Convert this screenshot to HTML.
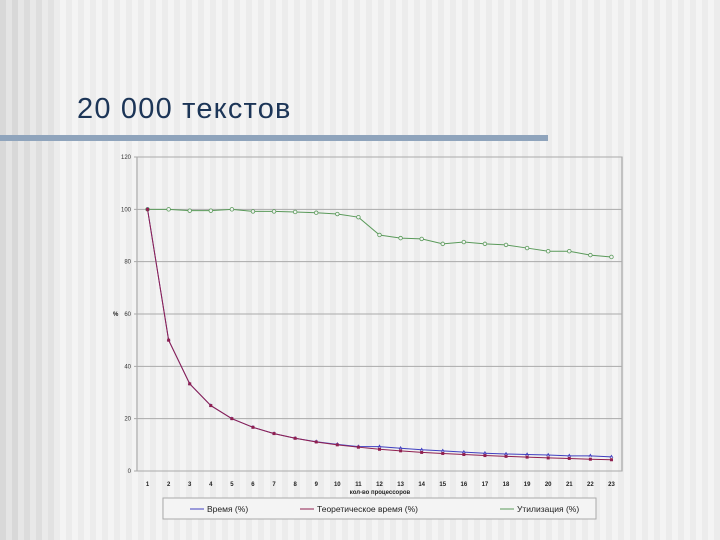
<!DOCTYPE html>
<html><head><meta charset="utf-8"><style>
body{margin:0;width:720px;height:540px;overflow:hidden;font-family:"Liberation Sans",sans-serif;
background:repeating-linear-gradient(90deg,#f4f4f4 0 6px,#ececec 6px 12px);}
</style></head><body>
<svg width="720" height="540" style="position:absolute;left:0;top:0">
<g>
<rect x="0" y="0" width="6" height="540" fill="#d8d8d8"/><rect x="6" y="0" width="6" height="540" fill="#e4e4e4"/>
<rect x="12" y="0" width="6" height="540" fill="#d8d8d8"/><rect x="18" y="0" width="6" height="540" fill="#e6e6e6"/>
<rect x="24" y="0" width="6" height="540" fill="#dcdcdc"/><rect x="30" y="0" width="6" height="540" fill="#e8e8e8"/>
<rect x="36" y="0" width="6" height="540" fill="#dedede"/><rect x="42" y="0" width="6" height="540" fill="#eaeaea"/>
<rect x="48" y="0" width="6" height="540" fill="#e2e2e2"/>
</g>
<text x="77" y="118" font-size="29" letter-spacing="1.2" fill="#1c3557">20 000 текстов</text>
<rect x="0" y="135" width="548" height="6" fill="#8fa4bc"/>
<g id="chart"></g>
</svg>
<script>
const categories=[1,2,3,4,5,6,7,8,9,10,11,12,13,14,15,16,17,18,19,20,21,22,23];
const timeVals=[100,50,33.3,25,20,16.7,14.3,12.5,11.2,10.2,9.3,9.3,8.7,8.1,7.7,7.2,6.8,6.5,6.3,6.1,5.8,5.8,5.4];
const theoryVals=[100,50,33.3,25,20,16.7,14.3,12.5,11.1,10,9.1,8.3,7.7,7.1,6.7,6.3,5.9,5.6,5.3,5,4.8,4.5,4.3];
const utilVals=[100,100,99.5,99.5,100,99.2,99.2,99,98.7,98.2,97,90.2,89,88.7,86.8,87.5,86.8,86.4,85.2,84,84,82.5,81.8];
const yTicks=[0,20,40,60,80,100,120];
const L=137,R=622,T=157,B=471;
const xs=i=>L+(R-L)/categories.length*(i+0.5);
const ys=v=>B-(B-T)*v/120;
const NS="http://www.w3.org/2000/svg";
const g=document.getElementById('chart');
function mk(tag,at,parent){const e=document.createElementNS(NS,tag);for(const k in at)e.setAttribute(k,at[k]);(parent||g).appendChild(e);return e;}
const plot=mk('rect',{x:L,y:T,width:R-L,height:B-T,fill:'none',stroke:'#999','stroke-width':1});


yTicks.forEach(t=>{
 const ln=mk('line',{x1:L-3,x2:R,y1:ys(t),y2:ys(t),stroke:'#aaa','stroke-width':1});
 
 
 const tx=mk('text',{x:L-6,y:ys(t)+2,'font-size':6,'text-anchor':'end',fill:'#333'});
 tx.textContent=t;
 
 
});
categories.forEach((c,i)=>{
 const tx=mk('text',{x:xs(i),y:486,'font-size':6,'text-anchor':'middle',fill:'#222','font-weight':'bold'});
 tx.textContent=c;
 
 
});
const yt=mk('text',{x:113,y:316,'font-size':6,fill:'#222','font-weight':'bold'});yt.textContent='%';


const xt=mk('text',{x:380,y:494,'font-size':6,'text-anchor':'middle',fill:'#222','font-weight':'bold'});xt.textContent='кол-во процессоров';


function series(vals,color,name,marker){
 const pts=vals.map((v,i)=>xs(i)+','+ys(v)).join(' ');
 const pl=mk('polyline',{points:pts,fill:'none',stroke:color,'stroke-width':1});
 
 
 vals.forEach((v,i)=>{
  let m;
  if(marker==='sq')m=mk('rect',{x:xs(i)-1.5,y:ys(v)-1.5,width:3,height:3,fill:color});
  else if(marker==='o')m=mk('circle',{cx:xs(i),cy:ys(v),r:1.8,fill:'#f2f2f2',stroke:color,'stroke-width':0.8});
  else m=mk('path',{d:`M${xs(i)-1.5},${ys(v)+1} L${xs(i)},${ys(v)-1.5} L${xs(i)+1.5},${ys(v)+1}`,fill:'none',stroke:color,'stroke-width':0.8});
  
  
 });
}
series(utilVals,'#5a9a5a','utilization','o');
series(timeVals,'#4040c0','time','tri');
series(theoryVals,'#902050','theory','sq');
const lg=mk('rect',{x:163,y:498,width:433,height:21,fill:'#f4f4f4',stroke:'#aaa','stroke-width':1});


[['#4040c0','Время (%)',190],['#902050','Теоретическое время (%)',300],['#5a9a5a','Утилизация (%)',500]].forEach(([c,t,x])=>{
 const l=mk('line',{x1:x,x2:x+14,y1:509,y2:509,stroke:c,'stroke-width':1});
 
 
 const tx=mk('text',{x:x+17,y:512,'font-size':8.5,fill:'#222'});tx.textContent=t;
 
 
});
</script>
</body></html>
